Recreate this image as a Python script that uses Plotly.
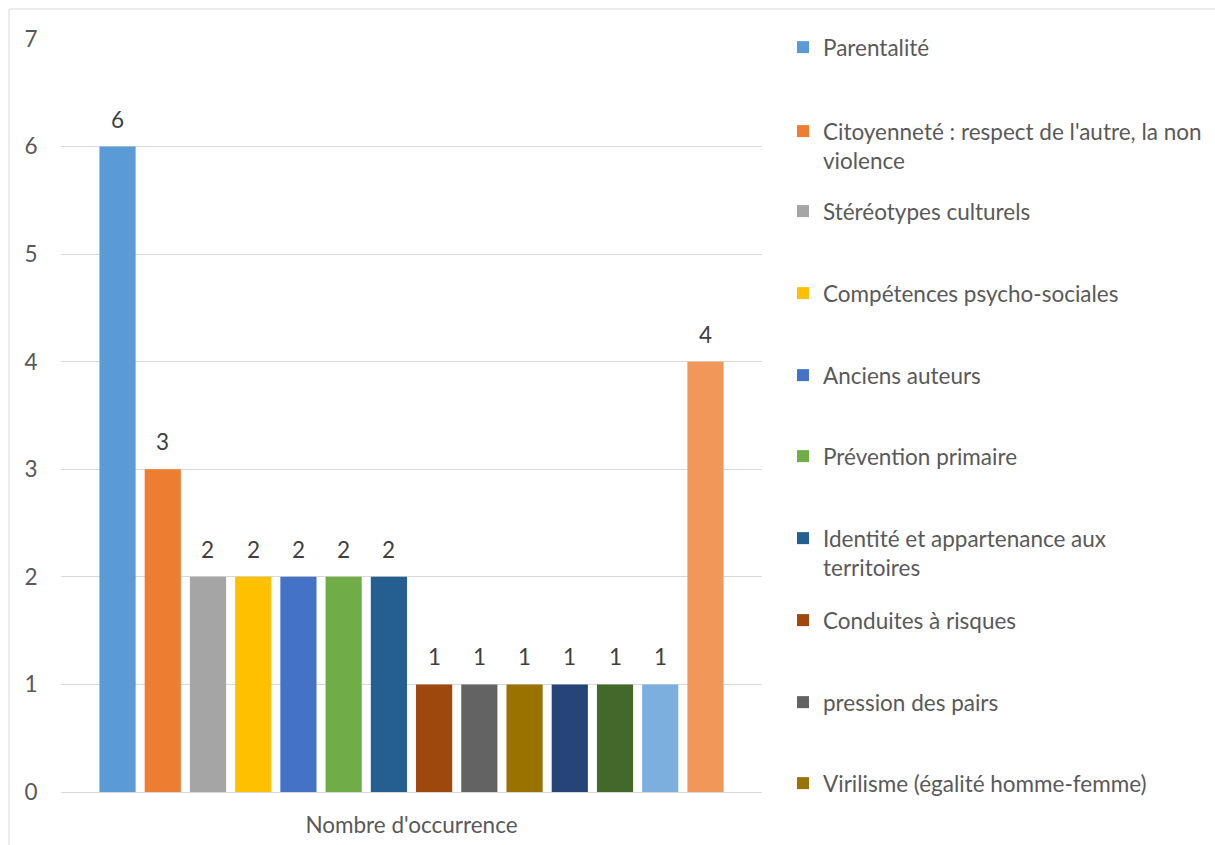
import plotly.graph_objects as go

# Thèmes abordés et nombre d'occurrences
themes = [
    "Parentalité",
    "Citoyenneté : respect de l'autre, la non<br>violence",
    "Stéréotypes culturels",
    "Compétences psycho-sociales",
    "Anciens auteurs",
    "Prévention primaire",
    "Identité et appartenance aux<br>territoires",
    "Conduites à risques",
    "pression des pairs",
    "Virilisme (égalité homme-femme)",
    "Thème 11",
    "Thème 12",
    "Thème 13",
    "Thème 14",
]
occurrences = [6, 3, 2, 2, 2, 2, 2, 1, 1, 1, 1, 1, 1, 4]
category = "Nombre d'occurrence"
y_ticks = [0, 1, 2, 3, 4, 5, 6, 7]

colors = [
    "#5B9BD5", "#ED7D31", "#A5A5A5", "#FFC000", "#4472C4", "#70AD47",
    "#255E91", "#9E480E", "#636363", "#997300", "#264478", "#43682B",
    "#7CAFDD", "#F1975A",
]

FONT = "Lato, 'Open Sans', sans-serif"
FS = 22.5
TEXT = "#595959"

# plot area geometry (pixels) used to place legend entries
W, H = 1215, 845
L, R, T, B = 61, 453, 39, 53
plot_h = H - T - B
plot_w = W - L - R

n_legend = 10
legend_rows_px = [48, 132, 212, 294, 376, 457, 539, 621, 703, 784]

fig = go.Figure()
for i, (name, val, col) in enumerate(zip(themes, occurrences, colors)):
    kw = {}
    if i < n_legend:
        kw["legend"] = "legend" if i == 0 else f"legend{i + 1}"
    fig.add_trace(go.Bar(
        x=[i], y=[val], name=name, width=0.8,
        marker=dict(color=col, line=dict(width=0)),
        showlegend=i < n_legend,
        hovertemplate=f"{name}: %{{y}}<extra></extra>",
        **kw,
    ))
    fig.add_annotation(
        x=i, y=val, text=str(val), showarrow=False,
        yanchor="bottom", yshift=12,
        font=dict(family=FONT, size=FS, color="#404040"),
    )

layout_legends = {}
for k in range(n_legend):
    key = "legend" if k == 0 else f"legend{k + 1}"
    layout_legends[key] = dict(
        x=(783 - L) / plot_w, xanchor="left",
        y=(H - B - (legend_rows_px[k] - 22)) / plot_h, yanchor="top",
        font=dict(family=FONT, size=FS, color=TEXT),
        bgcolor="rgba(0,0,0,0)", borderwidth=0,
        valign="top", itemclick=False, itemdoubleclick=False,
    )

fig.update_layout(
    width=W, height=H,
    margin=dict(l=L, r=R, t=T, b=B, pad=0, autoexpand=False),
    paper_bgcolor="white", plot_bgcolor="white",
    barmode="overlay",
    font=dict(family=FONT, size=FS, color=TEXT),
    **layout_legends,
)

fig.update_xaxes(
    range=[-1.25, len(themes) + 0.25],
    tickmode="array", tickvals=[(len(themes) - 1) / 2], ticktext=[category],
    ticks="outside", ticklen=13, tickcolor="rgba(0,0,0,0)",
    showgrid=False, zeroline=False, showline=True,
    linecolor="#D9D9D9", linewidth=1, automargin=False,
    tickfont=dict(family=FONT, size=FS, color=TEXT),
    fixedrange=True,
)
fig.update_yaxes(
    range=[0, 7], tickmode="array", tickvals=y_ticks,
    ticks="outside", ticklen=18, tickcolor="rgba(0,0,0,0)",
    showgrid=True, gridcolor="#D9D9D9", gridwidth=1,
    zeroline=False, showline=False, automargin=False,
    tickfont=dict(family=FONT, size=FS, color=TEXT),
    fixedrange=True,
)

# outer chart border
fig.add_shape(
    type="rect", xref="paper", yref="paper",
    x0=(9 - L) / plot_w, x1=(W + 20 - L) / plot_w,
    y0=(H - B - (H + 20)) / plot_h, y1=(H - B - 9) / plot_h,
    line=dict(color="#D9D9D9", width=1), fillcolor="rgba(0,0,0,0)",
    layer="below",
)

fig.write_html("out.html")
